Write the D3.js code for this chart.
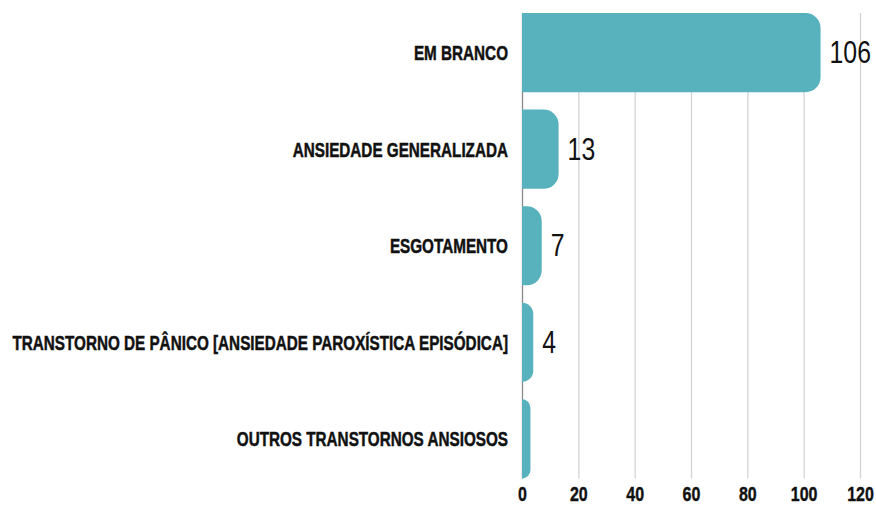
<!DOCTYPE html>
<html>
<head>
<meta charset="utf-8">
<script src="https://cdn.jsdelivr.net/npm/d3@7"></script>
<style>
  html, body { margin: 0; padding: 0; background: #fff; }
  svg { display: block; }
  .cat { font-family: "Liberation Sans", Arial, sans-serif; font-weight: 700; font-size: 21px; fill: #111; stroke: #111; stroke-width: 0.5px; }
  .val { font-family: "Liberation Sans", Arial, sans-serif; font-weight: 400; font-size: 31px; fill: #111; }
  .x-axis text { font-family: "Liberation Sans", Arial, sans-serif; font-weight: 700; font-size: 20px; fill: #111; stroke: #111; stroke-width: 0.4px; }
</style>
</head>
<body>
<svg id="chart" width="876" height="506"></svg>
<script>
// Diagnoses and number of records
const categories = [
  "EM BRANCO",
  "ANSIEDADE GENERALIZADA",
  "ESGOTAMENTO",
  "TRANSTORNO DE PÂNICO [ANSIEDADE PAROXÍSTICA EPISÓDICA]",
  "OUTROS TRANSTORNOS ANSIOSOS"
];
const values = [106, 13, 7, 4, 3];
const showValue = [true, true, true, true, false];
const xTicks = [0, 20, 40, 60, 80, 100, 120];

const svg = d3.select("#chart");
const plot = { left: 522, right: 860, top: 13, bottom: 478.5 };
const labelRight = 508;
const labelLeftLimit = 12;

// Horizontal squeeze that gives numbers a condensed look
const condense = 0.8;

const x = d3.scaleLinear().domain([0, 120]).range([plot.left, plot.right]);
const y = d3.scaleBand().domain(categories).range([plot.top, plot.bottom])
  .paddingInner(0.18).paddingOuter(0);

// Vertical gridlines and tick labels
const axis = d3.axisBottom(x).tickValues(xTicks).tickFormat(d3.format("d"))
  .tickSize(-(plot.bottom - plot.top)).tickPadding(8);
const gx = svg.append("g").attr("class", "x-axis")
  .attr("transform", `translate(0,${plot.bottom})`).call(axis);
gx.select(".domain").remove();
gx.selectAll(".tick line").attr("stroke", "#d4d4d4").attr("stroke-width", 1.3);
gx.selectAll(".tick").filter(d => d === 0).select("line").attr("stroke", "#8a8a8a");
gx.selectAll(".tick text").attr("transform", `scale(${condense},1)`);

// Bars: square on the baseline, rounded at the end
function barPath(v, cat) {
  const x0 = x(0), x1 = x(v);
  const y0 = y(cat), y1 = y0 + y.bandwidth();
  const w = x1 - x0;
  const r = Math.min(15, w, y.bandwidth() / 2);
  return `M${x0},${y0}H${x1 - r}A${r},${r} 0 0 1 ${x1},${y0 + r}` +
         `V${y1 - r}A${r},${r} 0 0 1 ${x1 - r},${y1}H${x0}Z`;
}

const rows = categories.map((c, i) => ({ cat: c, value: values[i], show: showValue[i] }));

svg.append("g").selectAll("path").data(rows).join("path")
  .attr("d", d => barPath(d.value, d.cat))
  .attr("fill", "#58b2bd");

// Category labels, squeezed so the longest fits the left margin
const catText = svg.append("g").selectAll("text").data(rows).join("text")
  .attr("class", "cat")
  .attr("text-anchor", "end")
  .attr("dominant-baseline", "central")
  .text(d => d.cat);
const widest = d3.max(catText.nodes(), n => n.getComputedTextLength());
const catSqueeze = (labelRight - labelLeftLimit) / widest;
catText.attr("transform", d => `translate(${labelRight},${y(d.cat) + y.bandwidth() / 2}) scale(${catSqueeze},1)`);

// Value labels
svg.append("g").selectAll("text").data(rows.filter(d => d.show)).join("text")
  .attr("class", "val")
  .attr("dominant-baseline", "central")
  .attr("transform", d => `translate(${x(d.value) + 9},${y(d.cat) + y.bandwidth() / 2}) scale(${condense},1)`)
  .text(d => d.value);
</script>
</body>
</html>
